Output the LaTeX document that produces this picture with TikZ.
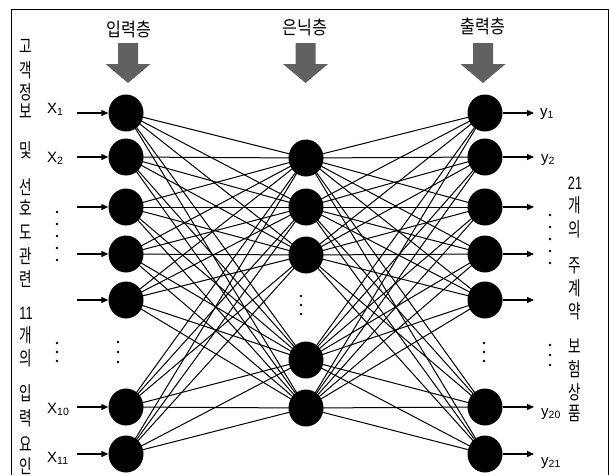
\documentclass[tikz,border=0pt]{standalone}
\usepackage{fontspec}
\setmainfont{Liberation Sans}
\newfontfamily\krfont{Noto Sans CJK KR}
\usetikzlibrary{arrows.meta,shapes.geometric}
\newcommand{\vtxt}[1]{\scalebox{0.85}[1.2]{#1}}
\begin{document}
\begin{tikzpicture}[x=1pt,y=-1pt,
  neuron/.style={ellipse,fill=black,inner sep=0pt,minimum width=35pt,minimum height=37pt},
  conn/.style={line width=1pt},
  feed/.style={line width=1.3pt,-{Triangle[length=7pt,width=6pt]}},
  title/.style={font=\krfont\fontsize{17}{17}\selectfont,inner sep=0pt},
  vt/.style={font=\krfont\fontsize{16}{16}\selectfont,inner sep=0pt},
  lab/.style={font=\fontsize{15}{15}\selectfont,inner sep=0pt,anchor=base west},
  bigarrow/.style={fill=black!62},
  dot/.style={fill=black}]
\useasboundingbox (0,0) rectangle (609,475);
\fill[white] (0,0) rectangle (609,475);
% frame
\draw[line width=0.9pt] (11,475) -- (11,9) -- (608,9) -- (608,475);

% titles
\node[title] (t1) at (129,29) {\scalebox{0.95}[1.1]{입력층}};
\node[title] (t2) at (305,27) {\scalebox{0.95}[1.1]{은닉층}};
\node[title] (t3) at (483,26) {\scalebox{0.95}[1.1]{출력층}};

% big down arrows
\foreach \cx in {128,305.5,483}{
  \fill[bigarrow] (\cx-10,43) -- (\cx+10,43) -- (\cx+10,64) -- (\cx+22.5,64)
     -- (\cx,83) -- (\cx-22.5,64) -- (\cx-10,64) -- cycle;
}

% neurons
\foreach \n/\y in {1/113,2/157,3/207,4/254,5/300,6/407,7/454}{
  \node[neuron] (i\n) at (126,\y) {};
  \node[neuron] (o\n) at (485,\y) {};
}
\foreach \n/\y in {1/158,2/207,3/255,4/360,5/408}{
  \node[neuron] (h\n) at (306,\y) {};
}

% connections
\foreach \a in {1,...,7}{
  \foreach \b in {1,...,5}{
    \draw[conn] (i\a.center) -- (h\b.center);
    \draw[conn] (h\b.center) -- (o\a.center);
  }
}

% input and output arrows
\foreach \n/\y in {1/113,2/157,3/207,4/254,5/300,6/407,7/454}{
  \coordinate (xa\n) at (77,\y);
  \draw[feed] (xa\n) -- (i\n.west);
  \coordinate (ya\n) at (534,\y);
  \draw[feed] (o\n.east) -- (ya\n);
}

% input labels
\node[lab] (x1) at (47,113) {X\textsubscript{1}};
\node[lab] (x2) at (47,162) {X\textsubscript{2}};
\node[lab] (x10) at (47,413) {X\textsubscript{10}};
\node[lab] (x11) at (47,462) {X\textsubscript{11}};

% output labels
\node[lab] (y1) at (540,116) {y\textsubscript{1}};
\node[lab] (y2) at (541,162) {y\textsubscript{2}};
\node[lab] (y20) at (541,416) {y\textsubscript{20}};
\node[lab] (y21) at (541,465) {y\textsubscript{21}};

% dots
\foreach \y in {212,224,236,248,260}{\fill[dot] (57,\y) circle (1.3pt);}
\foreach \y in {343,352,361}{\fill[dot] (57,\y) circle (1.3pt);}
\foreach \y in {342,352,362}{\fill[dot] (118,\y) circle (1.3pt);}
\foreach \y in {296,305,314}{\fill[dot] (301,\y) circle (1.3pt);}
\foreach \y in {343,352,361}{\fill[dot] (484,\y) circle (1.3pt);}
\foreach \y in {215,227,239,251,263}{\fill[dot] (550,\y) circle (1.3pt);}
\foreach \y in {345,355,365}{\fill[dot] (550,\y) circle (1.3pt);}

% left vertical text
\foreach \c/\y [count=\k] in {고/46,객/70,정/92,보/111,및/150,선/187,호/208,도/232,관/256,련/279,개/335,의/358,입/393,력/418,요/444,인/466}{
  \node[vt] (L\k) at (26,\y) {\vtxt{\c}};
}
\node[inner sep=0pt,font=\fontsize{15}{15}\selectfont] (L11) at (26,313) {\vtxt{11}};

% right vertical text
\node[inner sep=0pt,font=\fontsize{15}{15}\selectfont] (R21) at (575,183) {\vtxt{21}};
\foreach \c/\y [count=\k] in {개/205,의/229,주/266,계/288,약/311,보/346,험/369,상/392,품/413}{
  \node[vt] (R\k) at (575,\y) {\vtxt{\c}};
}
\end{tikzpicture}
\end{document}
